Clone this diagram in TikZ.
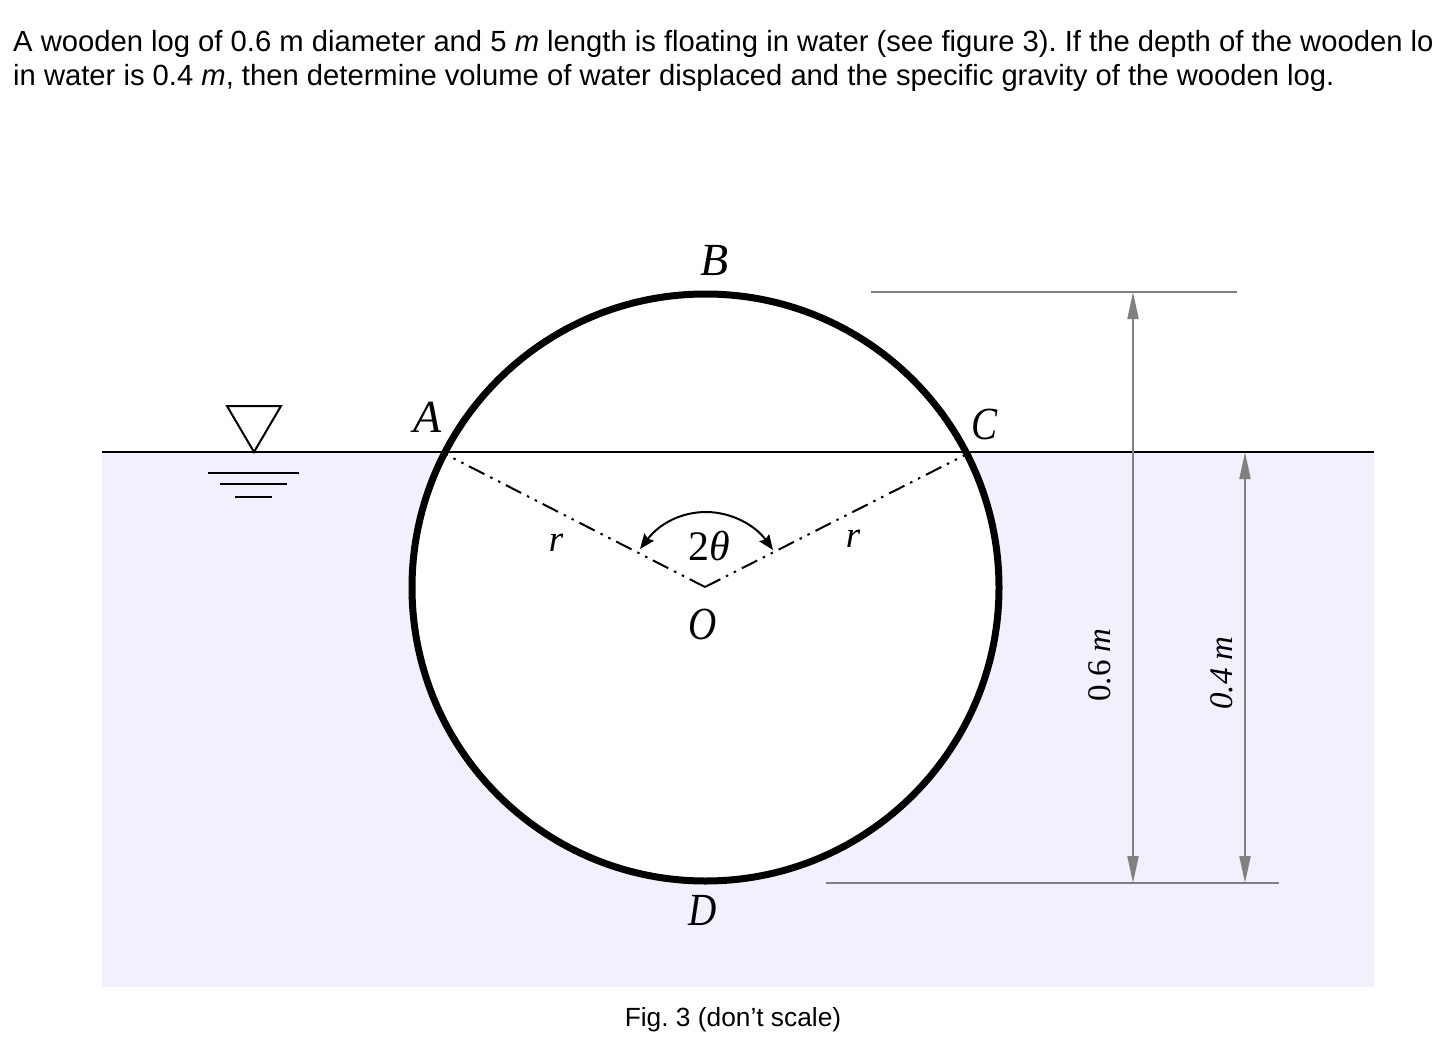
\documentclass[tikz,border=0pt]{standalone}
\usepackage{fontspec}
\setmainfont{Liberation Sans}
\newfontfamily\mathlike{Liberation Serif}
\usetikzlibrary{arrows.meta}
\definecolor{water}{HTML}{F1F1FE}
\definecolor{dimgray}{HTML}{808080}
\tikzset{
  x=1pt,y=-1pt,
  body/.style={anchor=base west,inner sep=0,font=\fontsize{29.2}{29.2}\selectfont\frenchspacing},
  letter/.style={inner sep=0,font=\fontsize{46}{46}\selectfont\mathlike\itshape},
  small/.style={inner sep=0,font=\fontsize{37}{37}\selectfont\mathlike\itshape},
  dimtext/.style={inner sep=0,rotate=90,font=\fontsize{33}{33}\selectfont\mathlike},
  dimline/.style={draw=dimgray,line width=2pt},
  dimarrow/.style={dimline,{Triangle[length=27pt,width=11pt]}-{Triangle[length=27pt,width=11pt]}},
  radius line/.style={draw=black,line width=2pt,dash pattern=on 17.2pt off 6.3pt on 2.5pt off 6.3pt on 2.5pt off 6.5pt},
  surface/.style={draw=black,line width=2pt},
}
\begin{document}
\begin{tikzpicture}
\useasboundingbox (0,0) rectangle (1438,1054);
\fill[white] (0,0) rectangle (1438,1054);
\fill[water] (102,452) rectangle (1374,987);
% named points
\coordinate (O) at (705,587);
\coordinate (Ctr) at (705.5,587.5);
\coordinate (A) at (447,455);
\coordinate (C) at (965,455);
\coordinate (WL) at (102,452);
\coordinate (WR) at (1374,452);
\coordinate (T1) at (871,292);
\coordinate (T2) at (1237,292);
\coordinate (B1) at (826,883);
\coordinate (B2) at (1279,883);
\coordinate (D1t) at (1133,292);
\coordinate (D1b) at (1133,883);
\coordinate (D2t) at (1245,452);
\coordinate (D2b) at (1245,883);
% log
\fill[white] (Ctr) circle[radius=293.5];
\draw[surface] (WL) -- (WR);
\draw[black,line width=7pt] (Ctr) circle[radius=293.5];
% radii
\draw[radius line] (O) -- (A);
\draw[radius line] (O) -- (C);
% angle arc
\coordinate (ArcL) at (640,549);
\coordinate (ArcR) at (773,550);
\draw[black,line width=2pt,{Stealth[length=15pt,width=12pt,inset=2pt]}-{Stealth[length=15pt,width=12pt,inset=2pt]}]
  (ArcL) .. controls (660,523) and (682,512) .. (706,512) .. controls (731,512) and (755,525) .. (ArcR);
% water symbol
\coordinate (S1) at (227,406);
\coordinate (S2) at (281,406);
\coordinate (S3) at (254,452);
\draw[black,line width=2pt,line join=miter] (S1) -- (S2) -- (S3) -- cycle;
\coordinate (L1a) at (208,473); \coordinate (L1b) at (299,473);
\coordinate (L2a) at (220,484); \coordinate (L2b) at (287,484);
\coordinate (L3a) at (235,497); \coordinate (L3b) at (272,497);
\draw[surface] (L1a) -- (L1b);
\draw[surface] (L2a) -- (L2b);
\draw[surface] (L3a) -- (L3b);
% dimensions
\draw[dimline] (T1) -- (T2);
\draw[dimline] (B1) -- (B2);
\draw[dimarrow] (D1t) -- (D1b);
\draw[dimarrow] (D2t) -- (D2b);
% labels
\node[letter] (lB) at (715,261) {B};
\node[letter] (lA) at (428,417) {A};
\node[letter,xscale=.85] (lC) at (985,424) {C};
\node[letter,xscale=.85] (lD) at (703,910) {D};
\node[letter,xscale=.85] (lO) at (703,624) {O};
\node[small] (r1) at (556,543) {r};
\node[small] (r2) at (853,539) {r};
\node[inner sep=0,font=\fontsize{42}{42}\selectfont\mathlike] (ang) at (709,546) {2\textit{θ}};
\node[dimtext] (d1) at (1100,665) {0.6 \textit{m}};
\node[dimtext] (d2) at (1222,673) {\textit{0.4 m}};
\node[inner sep=0,font=\fontsize{26.3}{26.3}\selectfont\frenchspacing] (cap) at (733,1020) {Fig. 3 (don’t scale)};
\node[body] (t1) at (13,51.5) {A wooden log of 0.6 m diameter and 5 \textit{m} length is floating in water (see figure 3). If the depth of the wooden lo};
\node[body] (t2) at (13,86) {in water is 0.4 \textit{m}, then determine volume of water displaced and the specific gravity of the wooden log.};
\end{tikzpicture}
\end{document}
